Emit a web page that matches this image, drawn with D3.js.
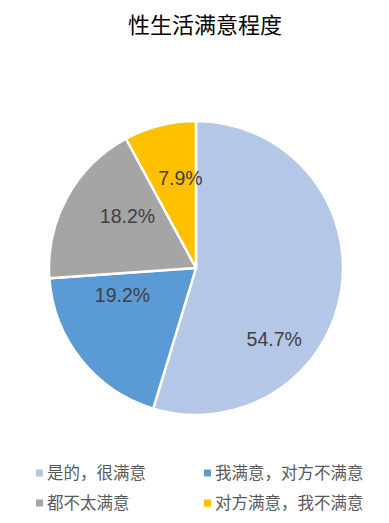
<!DOCTYPE html>
<html>
<head>
<meta charset="utf-8">
<script src="https://cdn.jsdelivr.net/npm/d3@7"></script>
<style>
  body { margin: 0; background: #fff; }
  svg { display: block; }
</style>
</head>
<body>
<div class="chart"></div>
<script>
const title = "性生活满意程度"
const categories = ["是的，很满意", "我满意，对方不满意", "都不太满意", "对方满意，我不满意"]
const values = [54.7, 19.2, 18.2, 7.9]
const colors = ["#B4C7E7", "#5B9BD5", "#A5A5A5", "#FFC000"]

const width = 389
const height = 523
const cx = 196
const cy = 268
const radius = 147

// where excel's "best fit" puts each label: fraction along the slice, fraction of radius
const labelAlong = [0.672, 0.766, 0.623, 0.655]
const labelDist = [0.72, 0.533, 0.583, 0.62]

const svg = d3.select("div.chart").append("svg")
    .attr("width", width)
    .attr("height", height)

svg.append("text")
    .attr("x", 205)
    .attr("y", 33)
    .attr("text-anchor", "middle")
    .style("font-family", "'Noto Sans CJK SC', sans-serif")
    .style("font-size", "22px")
    .style("fill", "#000")
    .text(title)

const data = categories.map((c, i) => ({name: c, value: values[i], color: colors[i]}))

const pie = d3.pie()
    .value(d => d.value)
    .sort(null)

const arc = d3.arc()
    .innerRadius(0)
    .outerRadius(radius)

const labelPoint = (d, i) => {
    const a = d.startAngle + (d.endAngle - d.startAngle) * labelAlong[i]
    const r = radius * labelDist[i]
    return [Math.sin(a) * r, -Math.cos(a) * r]
}

const g = svg.append("g")
    .attr("transform", `translate(${cx},${cy})`)

const slices = g.selectAll(".slice")
    .data(pie(data))
    .enter().append("g")
    .attr("class", "slice")

slices.append("path")
    .attr("d", arc)
    .attr("fill", d => d.data.color)
    .attr("stroke", "#fff")
    .attr("stroke-width", 2.5)
    .attr("stroke-linejoin", "round")

slices.append("text")
    .attr("transform", (d, i) => `translate(${labelPoint(d, i)})`)
    .attr("dy", "0.35em")
    .attr("text-anchor", "middle")
    .style("font-family", "'Liberation Sans', Arial, sans-serif")
    .style("font-size", "19.5px")
    .style("fill", "#404040")
    .text(d => d.data.value.toFixed(1) + "%")

// legend, two columns
const legend = svg.selectAll(".legend")
    .data(data)
    .enter().append("g")
    .attr("class", "legend")
    .attr("transform", (d, i) => `translate(${i % 2 === 0 ? 36 : 204},${473 + Math.floor(i / 2) * 30})`)

legend.append("rect")
    .attr("x", 0)
    .attr("y", -3.5)
    .attr("width", 7)
    .attr("height", 7)
    .attr("fill", d => d.color)

legend.append("text")
    .attr("x", 11)
    .attr("dy", "0.36em")
    .style("font-family", "'Noto Sans CJK SC', sans-serif")
    .style("font-size", "16.5px")
    .style("fill", "#595959")
    .text(d => d.name)
</script>
</body>
</html>
